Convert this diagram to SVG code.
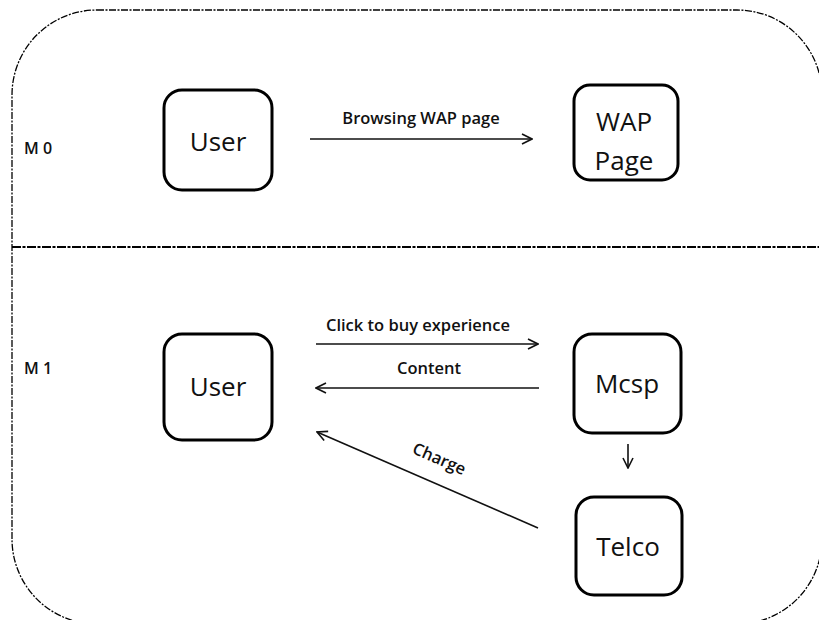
<svg xmlns="http://www.w3.org/2000/svg" width="819" height="620" viewBox="0 0 819 620">
  <style>
    .frame { fill: none; stroke: #000; stroke-width: 1.3; stroke-dasharray: 7 1.5 2 1.5; }
    .divider { fill: none; stroke: #000; stroke-width: 2; stroke-dasharray: 9 1.5 3 1.5; }
    .box { fill: #fff; stroke: #000; stroke-width: 3; }
    .name { font-family: "Open Sans", "Liberation Sans", sans-serif; font-size: 26px; font-weight: 500; fill: #111; text-anchor: middle; }
    .label { font-family: "Open Sans", "Liberation Sans", sans-serif; font-size: 16.5px; font-weight: 600; fill: #111; text-anchor: middle; }
    .stage { font-family: "Open Sans", "Liberation Sans", sans-serif; font-size: 16px; font-weight: 600; fill: #111; }
    .link { fill: none; stroke: #111; stroke-width: 1.6; marker-end: url(#head); }
  </style>
  <defs>
    <marker id="head" viewBox="0 0 12 12" refX="11" refY="6" markerWidth="12" markerHeight="12" markerUnits="userSpaceOnUse" orient="auto">
      <polyline points="1,1 11,6 1,11" fill="none" stroke="#111" stroke-width="1.6"/>
    </marker>
  </defs>

  <rect width="819" height="620" fill="#fff"/>

  <!-- outer frame and stage divider -->
  <rect class="frame" x="12" y="10" width="810" height="614" rx="85" ry="85"/>
  <line class="divider" x1="12" y1="247" x2="819" y2="247"/>

  <text class="stage" x="24" y="154">M 0</text>
  <text class="stage" x="24" y="374">M 1</text>

  <!-- stage M0 -->
  <g id="user0">
    <rect class="box" x="164" y="90" width="108" height="100" rx="18"/>
    <text class="name" x="218" y="151">User</text>
  </g>
  <g id="wap-page">
    <rect class="box" x="574" y="85" width="104" height="95" rx="16"/>
    <text class="name" x="624" y="131">WAP</text>
    <text class="name" x="624" y="170">Page</text>
  </g>

  <!-- stage M1 -->
  <g id="user1">
    <rect class="box" x="164" y="334" width="108" height="106" rx="18"/>
    <text class="name" x="218" y="396">User</text>
  </g>
  <g id="mcsp">
    <rect class="box" x="574" y="334" width="107" height="99" rx="18"/>
    <text class="name" x="627" y="393">Mcsp</text>
  </g>
  <g id="telco">
    <rect class="box" x="576" y="497" width="106" height="98" rx="18"/>
    <text class="name" x="628" y="556">Telco</text>
  </g>

  <!-- connectors -->
  <g id="connectors">
    <line class="link" x1="310" y1="139" x2="532" y2="139"/>
    <text class="label" x="421" y="124">Browsing WAP page</text>

    <line class="link" x1="316" y1="344" x2="538" y2="344"/>
    <text class="label" x="418" y="331">Click to buy experience</text>

    <line class="link" x1="539" y1="388" x2="316" y2="388"/>
    <text class="label" x="429" y="374">Content</text>

    <line class="link" x1="538" y1="528" x2="317" y2="432"/>
    <text class="label" transform="translate(437 464) rotate(23.5)" x="0" y="0">Charge</text>

    <line class="link" x1="628" y1="444" x2="628" y2="468"/>
  </g>
</svg>
